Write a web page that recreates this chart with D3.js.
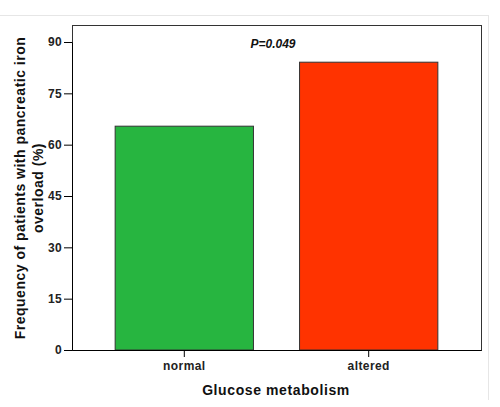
<!DOCTYPE html>
<html><head><meta charset="utf-8">
<script src="https://cdn.jsdelivr.net/npm/d3@7"></script>
<style>body{margin:0;background:#fff}svg{display:block}</style>
</head><body>
<script>
const categories = ["normal", "altered"];
const values = [65.4, 84.1];
const yTicks = [0, 15, 30, 45, 60, 75, 90];
const colors = ["#27b540", "#ff3300"];
const yTitle = ["Frequency of patients with pancreatic iron", "overload (%)"];
const xTitle = "Glucose metabolism";
const annotation = "P=0.049";

const W = 500, H = 407;
const FONT = "Arial, Liberation Sans, sans-serif";
const svg = d3.select("body").append("svg").attr("width", W).attr("height", H);
const L = 72, R = 481, T = 25, B = 350;

// outer light frame
svg.append("line").attr("x1", 0).attr("x2", 488).attr("y1", 15.5).attr("y2", 15.5).attr("stroke", "#e6e6e6");
svg.append("line").attr("x1", 488.5).attr("x2", 488.5).attr("y1", 15).attr("y2", 400).attr("stroke", "#e6e6e6");

const x = d3.scaleBand().domain(categories).range([L, R]).paddingInner(0.25).paddingOuter(0.234);
const y = d3.scaleLinear().domain([0, 90]).range([B, 42]);

// box
svg.append("rect").attr("x", L + 0.5).attr("y", T + 0.5).attr("width", R - L).attr("height", B - T)
  .attr("fill", "none").attr("stroke", "#333").attr("stroke-width", 1);

// bars
svg.selectAll("rect.bar").data(values).join("rect").attr("class", "bar")
  .attr("x", (d, i) => x(categories[i]))
  .attr("y", d => y(d))
  .attr("width", x.bandwidth())
  .attr("height", d => B - y(d))
  .attr("fill", (d, i) => colors[i])
  .attr("stroke", "#333").attr("stroke-width", 1);

// y axis
const ya = svg.append("g").attr("transform", `translate(${L},0)`)
  .call(d3.axisLeft(y).tickValues(yTicks).tickSize(8).tickPadding(2).tickSizeOuter(0));
ya.select(".domain").attr("stroke", "#000");
ya.selectAll("text").attr("font-family", FONT).attr("font-size", 12).attr("font-weight", "bold")
  .attr("letter-spacing", 0.3).attr("fill", "#222");

// x axis
const xa = svg.append("g").attr("transform", `translate(0,${B})`)
  .call(d3.axisBottom(x).tickSize(7).tickPadding(4).tickSizeOuter(0));
xa.select(".domain").attr("stroke", "#000");
xa.selectAll("text").attr("font-family", FONT).attr("font-size", 12).attr("font-weight", "bold")
  .attr("letter-spacing", 0.4).attr("fill", "#222");

// titles
const yt = svg.append("text").attr("transform", `translate(0,188) rotate(-90)`)
  .attr("text-anchor", "middle").attr("font-family", FONT)
  .attr("font-size", 14).attr("font-weight", "bold").attr("letter-spacing", 0.5).attr("fill", "#111");
yt.append("tspan").attr("x", 0).attr("y", 25).text(yTitle[0]);
yt.append("tspan").attr("x", 0).attr("y", 43).text(yTitle[1]);

svg.append("text").attr("x", 276).attr("y", 395).attr("text-anchor", "middle")
  .attr("font-family", FONT).attr("font-size", 14).attr("font-weight", "bold").attr("letter-spacing", 0.6).attr("fill", "#111")
  .text(xTitle);

svg.append("text").attr("x", 273).attr("y", 48).attr("text-anchor", "middle")
  .attr("font-family", FONT).attr("font-size", 12).attr("font-weight", "bold").attr("font-style", "italic").attr("fill", "#111")
  .text(annotation);
</script>
</body></html>
